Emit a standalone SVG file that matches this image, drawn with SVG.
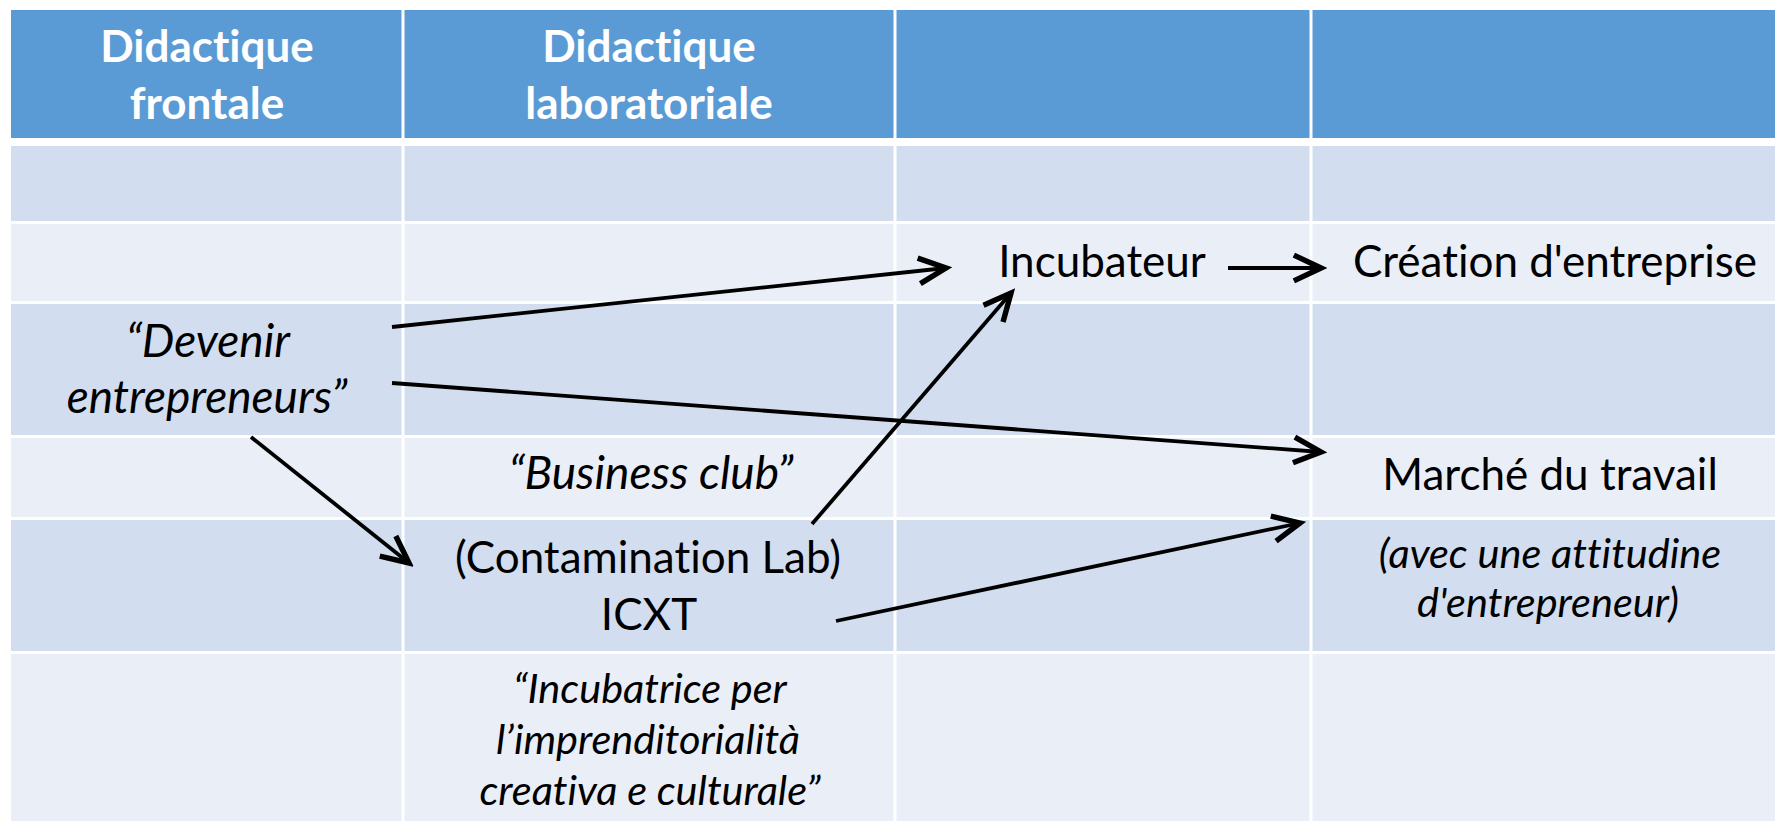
<svg xmlns="http://www.w3.org/2000/svg" width="1775" height="821" viewBox="0 0 1775 821">
<style>
.hd{fill:#5B9BD5}
.dk{fill:#D2DEEF}
.lt{fill:#E9EEF7}
.grid{stroke:#fff;stroke-width:3}
text{font-family:Lato,"Liberation Sans",sans-serif;text-anchor:middle;fill:#000;font-size:44px;font-variant-ligatures:none;font-feature-settings:"liga" 0,"clig" 0}
.h{fill:#fff;font-weight:bold}
.i{font-style:italic;font-size:46px}
.s{font-size:41.5px}
.c{stroke:#000;stroke-width:3.8;fill:none;marker-end:url(#arr)}
</style>
<defs>
<marker id="arr" markerUnits="userSpaceOnUse" markerWidth="40" markerHeight="40" viewBox="-24 -14 28 28" refX="0" refY="0" orient="auto">
<path d="M-19,-9 L0,0 L-19,9" fill="none" stroke="#000" stroke-width="3.8"/>
</marker>
</defs>
<rect width="1775" height="821" fill="#fff"/>
<g id="table">
<rect class="hd" x="11" y="10" width="1764" height="128"/>
<rect class="dk" x="11" y="146" width="1764" height="76"/>
<rect class="lt" x="11" y="223" width="1764" height="79"/>
<rect class="dk" x="11" y="303" width="1764" height="133"/>
<rect class="lt" x="11" y="437" width="1764" height="81"/>
<rect class="dk" x="11" y="519" width="1764" height="133"/>
<rect class="lt" x="11" y="653" width="1764" height="168"/>
<g class="grid">
<line x1="11" y1="222.5" x2="1775" y2="222.5"/>
<line x1="11" y1="302.5" x2="1775" y2="302.5"/>
<line x1="11" y1="436.5" x2="1775" y2="436.5"/>
<line x1="11" y1="518.5" x2="1775" y2="518.5"/>
<line x1="11" y1="652.5" x2="1775" y2="652.5"/>
<line x1="403" y1="10" x2="403" y2="821"/>
<line x1="895" y1="10" x2="895" y2="821"/>
<line x1="1311" y1="10" x2="1311" y2="821"/>
</g>
</g>
<g id="header-frontale">
<text class="h" x="207" y="62">Didactique</text>
<text class="h" x="207" y="119">frontale</text>
</g>
<g id="header-laboratoriale">
<text class="h" x="649" y="62">Didactique</text>
<text class="h" x="649" y="119">laboratoriale</text>
</g>
<g id="devenir">
<text class="i" x="208" y="357">“Devenir</text>
<text class="i" x="207" y="413">entrepreneurs”</text>
</g>
<g id="incubateur">
<text x="1102" y="277">Incubateur</text>
</g>
<g id="creation">
<text x="1555" y="277">Création d'entreprise</text>
</g>
<g id="business-club">
<text class="i" x="651" y="489">“Business club”</text>
</g>
<g id="icxt">
<text x="648" y="573">(Contamination Lab)</text>
<text x="649" y="630">ICXT</text>
</g>
<g id="marche">
<text x="1550" y="490">Marché du travail</text>
<text class="i s" x="1550" y="568">(avec une attitudine</text>
<text class="i s" x="1548" y="617">d'entrepreneur)</text>
</g>
<g id="incubatrice">
<text class="i s" x="650" y="703">“Incubatrice per</text>
<text class="i s" x="648" y="754">l’imprenditorialità</text>
<text class="i s" x="650" y="805">creativa e culturale”</text>
</g>
<g id="connectors">
<line class="c" x1="392" y1="327" x2="946" y2="268"/>
<line class="c" x1="392" y1="383" x2="1321" y2="452"/>
<line class="c" x1="251" y1="437" x2="409" y2="563"/>
<line class="c" x1="812" y1="524" x2="1011" y2="293"/>
<line class="c" x1="836" y1="621" x2="1300" y2="523"/>
<line class="c" x1="1228" y1="268" x2="1321" y2="268"/>
</g>
</svg>
